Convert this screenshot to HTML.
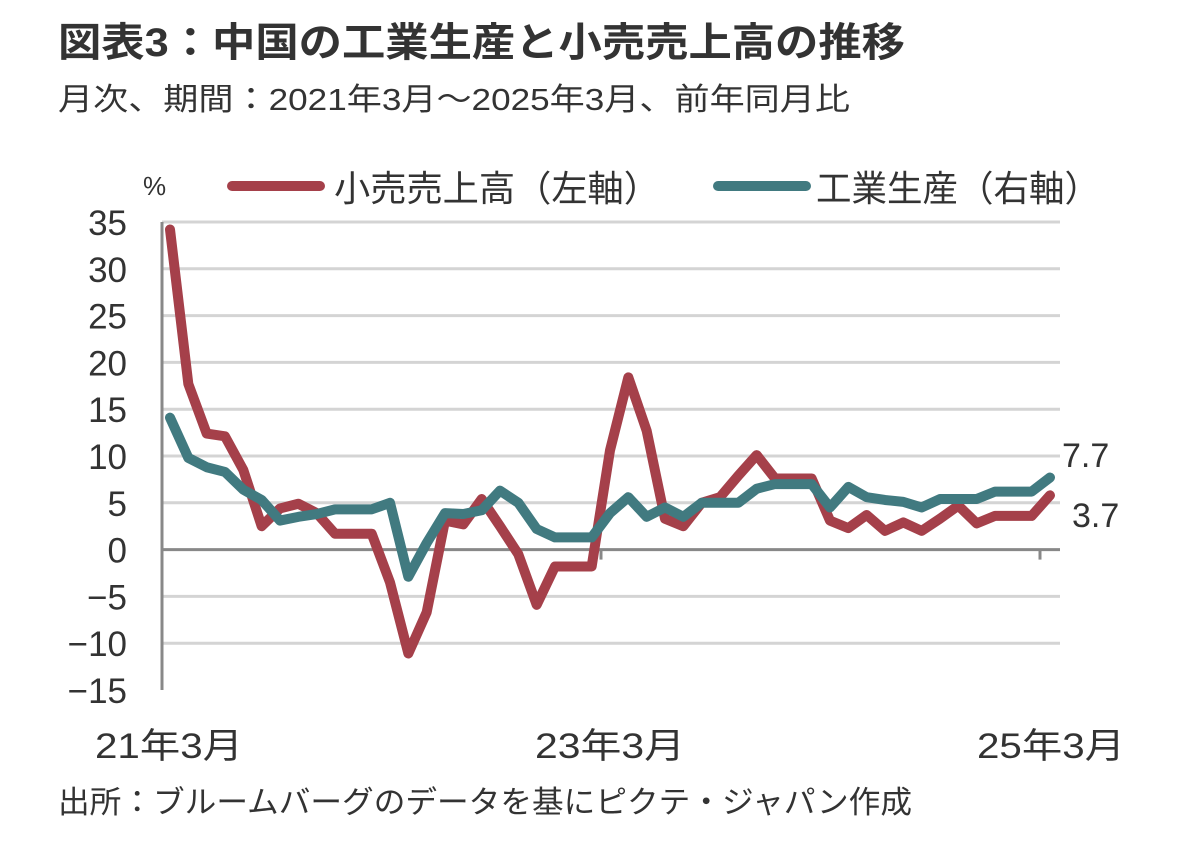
<!DOCTYPE html>
<html><head><meta charset="utf-8">
<style>
body{margin:0;background:#fff;width:1182px;height:843px;overflow:hidden;font-family:"Liberation Sans","Noto Sans CJK JP",sans-serif;color:#222}
svg text{font-family:"Liberation Sans","Noto Sans CJK JP",sans-serif}
</style></head><body>
<svg width="1182" height="843">
<text x="58" y="56" font-size="40" font-weight="bold" fill="#333" textLength="847" lengthAdjust="spacingAndGlyphs">図表3：中国の工業生産と小売売上高の推移</text>
<text x="58" y="110" font-size="31" fill="#333" textLength="792" lengthAdjust="spacingAndGlyphs">月次、期間：2021年3月～2025年3月、前年同月比</text>
<text x="143" y="195" font-size="26" fill="#333">%</text>
<g>
<line x1="232" y1="186" x2="320" y2="186" stroke="#A5404A" stroke-width="10" stroke-linecap="round"/>
<text x="334" y="201" font-size="36" fill="#333" textLength="326" lengthAdjust="spacingAndGlyphs">小売売上高（左軸）</text>
<line x1="718" y1="186" x2="806" y2="186" stroke="#417A80" stroke-width="10" stroke-linecap="round"/>
<text x="816" y="201" font-size="36" fill="#333" textLength="284" lengthAdjust="spacingAndGlyphs">工業生産（右軸）</text>
</g>
<g id="grid"></g><g id="yl"></g><g id="lines"></g>
<text x="1062" y="467" font-size="34" fill="#333">7.7</text>
<text x="1072" y="527" font-size="34" fill="#333">3.7</text>
<text x="95" y="758" font-size="35" fill="#333" textLength="148" lengthAdjust="spacingAndGlyphs">21年3月</text>
<text x="535" y="758" font-size="35" fill="#333" textLength="150" lengthAdjust="spacingAndGlyphs">23年3月</text>
<text x="977" y="758" font-size="35" fill="#333" textLength="148" lengthAdjust="spacingAndGlyphs">25年3月</text>
<text x="58" y="813" font-size="31" fill="#333" textLength="854" lengthAdjust="spacingAndGlyphs">出所：ブルームバーグのデータを基にピクテ・ジャパン作成</text>
</svg>
<script>
const yTicks=[35,30,25,20,15,10,5,0,-5,-10,-15];
const retail=[34.2,17.7,12.4,12.1,8.5,2.5,4.4,4.9,3.9,1.7,1.7,1.7,-3.5,-11.1,-6.7,3.1,2.7,5.4,2.5,-0.5,-5.9,-1.8,-1.8,-1.8,10.6,18.4,12.7,3.3,2.5,5.0,5.6,7.9,10.1,7.6,7.6,7.6,3.1,2.3,3.7,2.0,2.9,2.0,3.3,4.7,2.8,3.6,3.6,3.6,5.8];
const ip=[14.1,9.8,8.8,8.3,6.4,5.3,3.1,3.5,3.8,4.3,4.3,4.3,5.0,-2.9,0.7,3.9,3.8,4.2,6.3,5.0,2.2,1.3,1.3,1.3,3.9,5.6,3.5,4.5,3.5,5.0,5.0,5.0,6.5,7.0,7.0,7.0,4.5,6.7,5.6,5.3,5.1,4.5,5.4,5.4,5.4,6.2,6.2,6.2,7.7];
const NS='http://www.w3.org/2000/svg';
const y=v=>549.6-v*9.36;
const x=i=>170+i*880/48;
const grid=document.getElementById('grid'),yl=document.getElementById('yl'),lines=document.getElementById('lines');
function mk(t,a){const e=document.createElementNS(NS,t);for(const k in a)e.setAttribute(k,a[k]);return e;}
yTicks.forEach(v=>{
 if(v!==0&&v!==-15){const g=mk('line',{x1:162,x2:1060,y1:y(v),y2:y(v),stroke:'#d4d4d4','stroke-width':3});
 
 
 grid.appendChild(g);}
 const t=mk('text',{x:127,y:y(v)+13,'font-size':35,'text-anchor':'end',fill:'#333'});
 t.textContent=v<0?'−'+(-v):v;
 
 
 yl.appendChild(t);
});
const ax=mk('line',{x1:162,x2:162,y1:222,y2:690,stroke:'#888','stroke-width':3});


grid.appendChild(ax);
const zx=mk('line',{x1:162,x2:1060,y1:y(0),y2:y(0),stroke:'#888','stroke-width':3});


grid.appendChild(zx);
[601,1040].forEach(px=>{const t=mk('line',{x1:px,x2:px,y1:y(0),y2:y(0)+10,stroke:'#888','stroke-width':3});


grid.appendChild(t);});
function path(d,c,n){const p=mk('polyline',{points:d.map((v,i)=>x(i)+','+y(v)).join(' '),fill:'none',stroke:c,'stroke-width':10,'stroke-linejoin':'round','stroke-linecap':'round'});


lines.appendChild(p);}
path(retail,'#A5404A','retail-sales-line');
path(ip,'#417A80','industrial-production-line');
</script>
</body></html>
